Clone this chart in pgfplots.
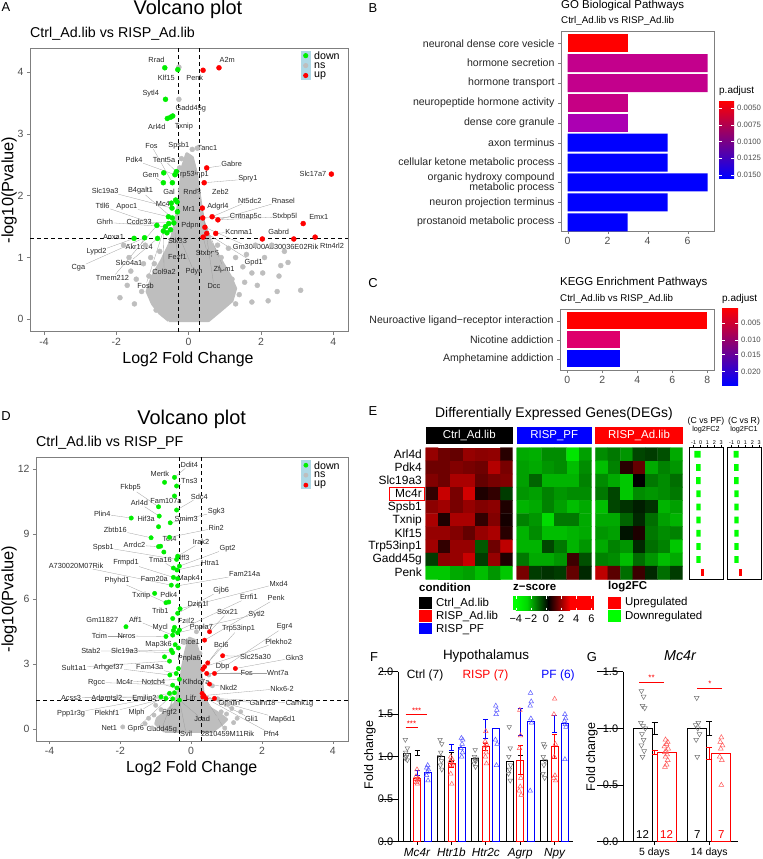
\documentclass[border=0pt]{standalone}
\usepackage{fontspec}
\setmainfont{Liberation Sans}
\usepackage{pgfplots}
\pgfplotsset{compat=1.18}
\definecolor{dgreen}{RGB}{0,238,0}
\definecolor{bgreen}{RGB}{0,255,0}
\definecolor{ngrey}{RGB}{190,190,190}
\definecolor{bord}{RGB}{127,127,127}
\definecolor{tickgrey}{RGB}{77,77,77}
\definecolor{hsec}{RGB}{195,0,140}
\definecolor{neuro}{RGB}{198,0,132}
\definecolor{dcg}{RGB}{172,0,178}
\definecolor{nico}{RGB}{222,0,108}
\definecolor{midrb}{RGB}{190,0,150}
\definecolor{lblue}{RGB}{173,216,230}
\definecolor{ptred}{RGB}{255,90,90}
\definecolor{ptblue}{RGB}{90,90,255}
\newcommand{\fs}[1]{\fontsize{#1}{#1}\selectfont}
\tikzset{
  glab/.style={font=\fs{7.4}, inner sep=0.5bp, text=black!85},
  gseg/.style={gray!75, line width=0.3pt},
  ytl/.style={anchor=east, font=\fs{11}, inner sep=0pt, xshift=-5bp},
  ytk/.style={black, line width=0.8pt},
}
\pgfplotsset{
  colormap={zs}{rgb255(0pt)=(0,255,0) rgb255(40pt)=(0,0,0) rgb255(80pt)=(255,0,0) rgb255(100pt)=(255,0,0)},
  every axis/.append style={/pgf/number format/assume math mode=true},
  volc/.style={scale only axis, anchor=north west, axis line style={bord, line width=0.6pt},
    tick style={bord, line width=0.5pt}, tick align=outside, tick pos=left, major tick length=3bp,
    ticklabel style={font=\fs{10.5}, text=tickgrey}, xtick={-4,-2,0,2,4}},
  gp/.style={scale only axis, axis lines*=left, axis line style={black, line width=0.9pt},
    tick style={black, line width=0.8pt}, tick align=outside, major tick length=3bp, clip=false,
    ytick=\empty},
  hm/.style={scale only axis, anchor=north west, ymin=-0.5, ymax=9.5, y dir=reverse, hide axis,
    colormap name=zs, point meta min=-4, point meta max=6},
  side/.style={scale only axis, anchor=north west, xmin=-1.67, xmax=3.26, ymin=-0.5, ymax=9.5, y dir=reverse,
    ytick=\empty, xtick={-1,0,1,2,3}, xticklabel pos=right, xtick pos=right, tick align=outside,
    major tick length=2.5bp, xticklabel style={font=\fs{5.5}, inner sep=0.5bp},
    axis line style={black, line width=0.6pt}, tick style={black, line width=0.4pt}},
}
\newcommand{\glab}[5]{\node[glab] (gl) at (axis cs:#1,#2) {#5}; \draw[gseg] (gl) -- (axis cs:#3,#4);}
\newcommand{\gnode}[3]{\node[glab] at (axis cs:#1,#2) {#3};}
\newcommand{\ytk}[3]{\draw[ytk] (axis cs:#1,#2) -- ++(-3bp,0); \node[ytl] at (axis cs:#1,#2) {#3};}
\begin{document}
\begin{tikzpicture}
\path[use as bounding box] (0,0) rectangle (763bp,-859bp);

% ---------------- panel letters & titles ----------------
\node[font=\fs{13}] at (6bp,-7bp) {A};
\node[font=\fs{13}] at (373bp,-8bp) {B};
\node[font=\fs{13}] at (373bp,-283bp) {C};
\node[font=\fs{13}] at (6bp,-416bp) {D};
\node[font=\fs{13}] at (373bp,-411bp) {E};
\node[font=\fs{13}] at (374bp,-657bp) {F};
\node[font=\fs{13}] at (592bp,-657bp) {G};

\node[font=\fs{20}, anchor=base] at (188bp,-14.5bp) {Volcano plot};
\node[font=\fs{14.3}, anchor=base west, inner sep=0pt] at (30bp,-37.3bp) {Ctrl\_Ad.lib vs RISP\_Ad.lib};
\node[font=\fs{16}, anchor=base] at (188bp,-363bp) {Log2 Fold Change};
\node[font=\fs{16.5}, rotate=90] at (9bp,-190bp) {-log10(Pvalue)};

\node[font=\fs{20}, anchor=base] at (191.7bp,-424bp) {Volcano plot};
\node[font=\fs{14.3}, anchor=base west, inner sep=0pt] at (36bp,-446bp) {Ctrl\_Ad.lib vs RISP\_PF};
\node[font=\fs{16}, anchor=base] at (191.7bp,-772bp) {Log2 Fold Change};
\node[font=\fs{16.5}, rotate=90] at (9bp,-599bp) {-log10(Pvalue)};

% ---------------- A volcano ----------------
\begin{axis}[volc, at={(30bp,-48bp)}, width=318bp, height=283.7bp,
  xmin=-4.39, xmax=4.41, ymin=-0.2, ymax=4.39, ytick={0,1,2,3,4}]
\addplot[fill=ngrey, draw=ngrey, line width=3bp, line join=round] coordinates {
(-0.55,-0.02) (0.55,-0.02) (0.9,0.15) (1.2,0.3) (1.3,0.5) (1.15,0.7) (0.9,0.95) (0.6,1.25) (0.4,1.6)
(0.3,2.0) (0.2,2.4) (0.1,2.62) (-0.05,2.68) (-0.18,2.45) (-0.25,2.0) (-0.35,1.6) (-0.5,1.25)
(-0.75,0.95) (-1.0,0.7) (-1.15,0.45) (-1.0,0.25) (-0.8,0.1) (-0.55,-0.02)};
\addplot[only marks, mark=*, mark size=2.5bp, color=ngrey] coordinates {
(-0.27,4.08) (-0.27,3.56) (0.24,2.77) (-0.2,2.6) (0.1,2.75) (-0.25,2.45) (0.2,2.3) (-0.22,2.1)
(0.25,2.0) (-0.15,1.95) (0.28,1.7) (0.05,2.2)
(0.9,1.0) (1.2,0.65) (1.5,0.85) (1.75,0.75) (2.1,1.0) (2.5,0.7) (2.55,0.87) (2.75,0.92) (3.1,0.47)
(2.45,0.45) (1.9,0.55) (1.4,0.4) (1.0,0.3) (1.3,0.25) (1.75,0.28) (0.95,0.85) (1.6,1.05) (1.85,1.2)
(2.3,1.2) (2.65,1.1) (1.1,1.15) (1.3,1.0) (0.8,1.2) (0.7,1.05) (2.2,0.3) (1.55,0.6) (2.05,0.75)
(-1.9,0.35) (-1.7,0.55) (-1.45,0.65) (-1.25,0.9) (-1.05,1.0) (-1.1,0.7) (-0.95,0.9) (-1.3,0.45)
(-1.6,0.78) (-1.0,0.3) (-1.5,0.25) (-1.8,1.2) (-0.8,1.1) (-1.2,1.2) (-0.9,0.15) (-1.65,1.0)};
\addplot[only marks, mark=*, mark size=2.5bp, color=dgreen] coordinates {
(-0.66,4.07) (-0.30,4.04) (-0.64,3.56) (-0.44,3.29) (-0.59,3.25) (-0.5,3.27) (-0.69,2.37) (-0.38,2.34)
(-0.34,2.39) (-0.70,2.21) (-0.45,2.21) (-0.36,1.93) (-0.48,1.88) (-0.46,1.80) (-0.31,1.74) (-0.56,1.66)
(-0.45,1.64) (-0.41,1.56) (-0.64,1.50) (-0.70,1.43) (-0.50,1.45) (-0.88,1.52) (-0.86,1.31) (-1.22,1.32)
(-1.51,1.31) (-0.32,1.9) (-0.55,1.55) (-0.6,1.4)};
\addplot[only marks, mark=*, mark size=2.5bp, color=red] coordinates {
(0.40,4.03) (0.84,4.07) (0.50,2.45) (0.43,2.21) (3.95,2.35) (0.38,1.80) (0.39,1.64) (0.65,1.66)
(0.81,1.61) (3.17,1.55) (0.75,1.39) (0.45,1.49) (0.50,1.39) (0.40,1.33) (2.04,1.30) (2.91,1.30) (3.50,1.33)};
\addplot[black, line width=0.9bp, dash pattern=on 4bp off 3bp] coordinates {(-0.29,-0.2) (-0.29,4.39)};
\addplot[black, line width=0.9bp, dash pattern=on 4bp off 3bp] coordinates {(0.31,-0.2) (0.31,4.39)};
\addplot[black, line width=0.9bp, dash pattern=on 4bp off 3bp] coordinates {(-4.39,1.301) (4.41,1.301)};
\gnode{-0.89}{4.19}{Rrad}\gnode{1.07}{4.19}{A2m}\gnode{-0.62}{3.90}{Klf15}\gnode{0.17}{3.90}{Penk}
\gnode{-1.05}{3.66}{Sytl4}\gnode{0.06}{3.41}{Gadd45g}\gnode{-0.88}{3.12}{Arl4d}\gnode{-0.13}{3.12}{Txnip}
\glab{-1.03}{2.81}{-0.45}{2.21}{Fos}\gnode{-0.27}{2.81}{Spsb1}\gnode{0.52}{2.77}{Tanc1}
\glab{-1.51}{2.58}{-0.38}{2.34}{Pdk4}\glab{-0.68}{2.58}{-0.34}{2.39}{Tent5a}\glab{1.19}{2.51}{0.50}{2.45}{Gabre}
\glab{-1.05}{2.34}{-0.70}{2.21}{Gem}\gnode{0.10}{2.34}{Trp53inp1}\gnode{3.44}{2.35}{Slc17a7}
\glab{1.64}{2.27}{0.43}{2.21}{Spry1}\glab{-2.31}{2.08}{-0.46}{1.80}{Slc19a3}\glab{-1.33}{2.08}{-0.45}{1.64}{B4galt1}
\gnode{-0.54}{2.07}{Gal}\gnode{0.10}{2.07}{Rnd3}\gnode{0.88}{2.07}{Zeb2}
\glab{-2.38}{1.83}{-0.50}{1.45}{Ttll6}\glab{-1.71}{1.82}{-0.56}{1.66}{Apoc1}\gnode{-0.68}{1.86}{Mc4r}
\glab{1.69}{1.92}{0.65}{1.66}{Nt5dc2}\glab{2.62}{1.92}{0.81}{1.61}{Rnasel}\gnode{0.01}{1.78}{Mr1}
\gnode{0.81}{1.82}{Adgrl4}\glab{1.58}{1.66}{0.39}{1.64}{Cntnap5c}\glab{2.66}{1.66}{0.81}{1.61}{Stxbp5l}
\gnode{3.60}{1.66}{Emx1}\glab{-2.32}{1.57}{-0.64}{1.50}{Ghrh}\glab{-1.37}{1.57}{-0.41}{1.56}{Ccdc33}
\gnode{0.04}{1.52}{Pdpn}\glab{1.39}{1.42}{0.75}{1.39}{Kcnma1}\gnode{2.49}{1.42}{Gabrd}
\gnode{-2.08}{1.34}{Anxa1}\gnode{-0.31}{1.27}{Stk33}\glab{1.67}{1.17}{0.45}{1.49}{Gm30400}
\gnode{2.85}{1.17}{A830036E02Rik}\gnode{3.97}{1.19}{Rtn4rl2}
\glab{-2.55}{1.09}{-1.51}{1.31}{Lypd2}\glab{-1.37}{1.17}{-1.22}{1.32}{Akr1c14}\glab{-1.65}{0.92}{-0.86}{1.31}{Slco4a1}
\glab{-0.31}{1.01}{-0.36}{1.40}{Fezf1}\glab{0.52}{1.07}{0.40}{1.33}{Stxbp6}\glab{1.80}{0.92}{0.50}{1.39}{Gpd1}
\glab{-3.05}{0.84}{-1.22}{1.32}{Cga}\glab{-0.68}{0.77}{-0.70}{1.43}{Col9a2}\glab{0.15}{0.77}{-0.30}{1.40}{Pdyn}
\glab{0.98}{0.81}{0.39}{1.64}{Zfpm1}\glab{-2.11}{0.67}{-0.88}{1.52}{Tmem212}\glab{-1.19}{0.54}{-0.70}{1.43}{Fosb}
\glab{0.70}{0.54}{0.38}{1.80}{Dcc}
\fill[lblue] (axis description cs:0.851,0.991) rectangle (axis description cs:0.883,0.887);
\fill[dgreen] (axis description cs:0.867,0.973) circle (2.6bp);
\fill[ngrey] (axis description cs:0.867,0.938) circle (2.6bp);
\fill[red] (axis description cs:0.867,0.903) circle (2.6bp);
\node[anchor=west, font=\fs{10.7}, inner sep=0pt] at (axis description cs:0.893,0.973) {down};
\node[anchor=west, font=\fs{10.7}, inner sep=0pt] at (axis description cs:0.893,0.938) {ns};
\node[anchor=west, font=\fs{10.7}, inner sep=0pt] at (axis description cs:0.893,0.903) {up};
\end{axis}

% ---------------- D volcano ----------------
\begin{axis}[volc, at={(36bp,-457bp)}, width=312bp, height=284bp,
  xmin=-4.38, xmax=4.43, ymin=-0.55, ymax=12.57, ytick={0,3,6,9,12}]
\addplot[fill=ngrey, draw=ngrey, line width=3bp, line join=round] coordinates {
(-0.75,-0.1) (0.6,-0.1) (0.85,0.2) (1.0,0.45) (0.8,0.7) (0.5,1.0) (0.35,1.5) (0.3,2.2) (0.25,3.0)
(0.2,3.6) (0.1,4.1) (-0.05,4.2) (-0.15,3.6) (-0.25,2.8) (-0.3,2.0) (-0.45,1.2) (-0.7,0.8) (-0.95,0.5)
(-1.0,0.25) (-0.75,-0.1)};
\addplot[only marks, mark=*, mark size=2.2bp, color=ngrey] coordinates {
(-1.93,0.1) (-1.2,0.5) (-1.05,0.65) (0.85,0.8) (1.0,0.7) (1.15,0.95) (1.3,0.5) (1.2,0.3) (-1.3,0.25)
(0.6,2.0) (0.5,2.5) (-0.2,4.0) (0.15,4.5) (-0.1,5.0) (0.25,3.5) (1.05,1.15) (-1.0,1.1) (-0.85,0.9)
(0.75,1.4) (1.4,0.8) (0.7,0.5) (-1.1,0.05) (0.95,0.05)};
\addplot[only marks, mark=*, mark size=2.2bp, color=dgreen] coordinates {
(-0.47,11.63) (-0.75,11.40) (-0.41,11.23) (-0.47,10.77) (-0.92,10.27) (-0.41,10.12) (-0.90,9.84)
(-1.69,9.75) (-0.59,9.53) (-0.92,9.35) (-1.13,8.84) (-0.61,8.86) (-0.92,8.43) (-0.86,8.45) (-0.77,8.18)
(-0.38,7.99) (-0.41,7.84) (-0.33,7.53) (-0.5,7.44) (-0.40,7.35) (-0.5,7.01) (-0.38,6.95) (-0.56,6.65)
(-0.38,6.62) (-1.03,6.27) (-0.71,5.84) (-0.63,5.87) (-0.31,5.56) (-0.38,5.35) (-0.52,5.11) (-1.84,4.73)
(-0.47,4.7) (-0.33,4.58) (-0.5,4.55) (-0.71,4.28) (-0.52,4.34) (-0.38,4.45) (-0.56,3.65) (-0.52,3.53)
(-0.75,3.34) (-0.61,3.14) (-0.42,2.57) (-0.6,2.50) (-0.33,2.30) (-0.52,2.03) (-0.85,1.49) (-0.61,1.65)
(-0.47,1.68) (-0.33,1.34) (-0.71,1.42) (-0.52,1.4) (-0.4,1.9) (-0.36,2.8) (-0.45,3.9) (-0.36,3.75)};
\addplot[only marks, mark=*, mark size=2.2bp, color=red] coordinates {
(0.52,4.50) (0.38,4.11) (0.89,3.39) (1.25,2.80) (0.47,3.06) (0.38,2.88) (0.33,2.76) (0.44,2.57)
(0.66,2.57) (0.52,2.08) (0.31,1.65) (0.33,1.49) (0.42,1.42) (0.66,1.42) (0.36,1.55)};
\addplot[black, line width=0.9bp, dash pattern=on 4bp off 3bp] coordinates {(-0.32,-0.55) (-0.32,12.57)};
\addplot[black, line width=0.9bp, dash pattern=on 4bp off 3bp] coordinates {(0.30,-0.55) (0.30,12.57)};
\addplot[black, line width=0.9bp, dash pattern=on 4bp off 3bp] coordinates {(-4.38,1.301) (4.43,1.301)};
\glab{-0.05}{12.2}{-0.47}{11.63}{Ddit4}\gnode{-0.88}{11.78}{Mertk}\glab{-0.05}{11.46}{-0.41}{11.23}{Tns3}
\glab{-1.71}{11.15}{-0.92}{10.27}{Fkbp5}\gnode{-0.71}{10.54}{Fam107a}\glab{0.23}{10.73}{-0.41}{10.12}{Sdc4}
\glab{-1.46}{10.43}{-0.90}{9.84}{Arl4d}\glab{0.71}{10.03}{-0.59}{9.53}{Sgk3}\glab{-2.51}{9.94}{-1.69}{9.75}{Plin4}
\gnode{-1.27}{9.70}{Hif3a}\gnode{-0.14}{9.70}{Smim3}\glab{0.71}{9.30}{-0.61}{8.86}{Rin2}
\glab{-2.14}{9.20}{-1.13}{8.84}{Zbtb16}\gnode{-0.61}{8.78}{Tet4}\glab{0.28}{8.63}{-0.38}{7.99}{Irak2}
\glab{-2.48}{8.40}{-0.41}{7.84}{Spsb1}\glab{-1.60}{8.50}{-0.92}{8.43}{Arrdc2}\glab{1.03}{8.35}{-0.33}{7.53}{Gpt2}
\glab{-0.87}{7.81}{-0.5}{7.44}{Tma16}\gnode{-0.19}{7.89}{Iff3}\glab{0.54}{7.69}{-0.40}{7.35}{Htra1}
\glab{-3.25}{7.55}{-0.56}{6.65}{A730020M07Rik}\glab{-1.84}{7.70}{-0.5}{7.01}{Frmpd1}\glab{1.51}{7.15}{-0.38}{6.62}{Fam214a}
\glab{-2.09}{6.85}{-0.71}{5.84}{Phyhd1}\gnode{-1.04}{6.95}{Fam20a}\gnode{-0.07}{6.95}{Mapk4}
\glab{2.47}{6.73}{-0.31}{5.56}{Mxd4}\glab{0.85}{6.42}{-0.38}{5.35}{Gjb6}\gnode{-1.41}{6.15}{Txnip}
\gnode{-0.63}{6.19}{Pdk4}\glab{1.63}{6.09}{-0.33}{4.58}{Errfi1}\glab{2.40}{6.04}{0.38}{4.11}{Penk}
\gnode{0.19}{5.73}{Dzip1l}\gnode{-0.87}{5.47}{Trib1}\glab{1.03}{5.39}{0.52}{4.50}{Sox21}
\glab{1.85}{5.31}{-0.38}{4.45}{Sytl2}\gnode{-2.51}{5.04}{Gm11827}\glab{-1.57}{5.04}{-0.52}{4.34}{Aff1}
\gnode{-0.14}{5.00}{Fzd2}\gnode{-0.87}{4.70}{Mycl}\gnode{0.29}{4.70}{Pnpla7}
\glab{1.34}{4.65}{0.47}{3.06}{Trp53inp1}\glab{2.64}{4.73}{0.66}{2.57}{Egr4}
\glab{-2.59}{4.30}{-1.84}{4.30}{Tcim}\glab{-1.82}{4.30}{-0.71}{4.28}{Nrros}\gnode{-0.92}{3.91}{Map3k6}
\gnode{-0.02}{4.03}{Plce1}\glab{2.47}{4.03}{0.38}{2.88}{Plekho2}\glab{-2.83}{3.60}{-0.56}{3.65}{Stab2}
\glab{-1.88}{3.60}{-0.52}{3.53}{Slc19a3}\glab{0.85}{3.88}{0.33}{2.76}{Bcl6}\gnode{-0.05}{3.27}{Pnpla6}
\glab{1.82}{3.34}{0.89}{3.39}{Slc25a30}\glab{2.92}{3.30}{1.25}{2.80}{Gkn3}
\glab{-3.30}{2.85}{-0.61}{3.14}{Sult1a1}\glab{-2.33}{2.85}{-0.6}{2.50}{Arhgef37}\glab{-1.17}{2.85}{-0.42}{2.57}{Fam43a}
\gnode{0.89}{2.91}{Dbp}\glab{1.57}{2.60}{0.66}{2.57}{Fos}\glab{2.45}{2.57}{0.44}{2.57}{Wnt7a}
\glab{-2.67}{2.16}{-0.52}{2.03}{Rgcc}\glab{-1.88}{2.16}{-0.33}{2.30}{Mc4r}\glab{-1.06}{2.16}{-0.4}{1.9}{Notch4}
\gnode{0.14}{2.16}{Klhdc7a}\glab{1.06}{1.91}{0.52}{2.08}{Nkd2}\glab{2.57}{1.88}{0.36}{1.55}{Nkx6-2}
\glab{-3.39}{1.46}{-0.85}{1.49}{Acss3}\glab{-2.38}{1.46}{-0.71}{1.42}{Adamtsl2}\glab{-1.32}{1.46}{-0.61}{1.65}{Emilin2}
\gnode{0.0}{1.46}{Lifr}\glab{1.08}{1.19}{0.33}{1.49}{Opalin}\glab{2.02}{1.19}{0.42}{1.42}{Galnt18}
\glab{3.06}{1.19}{0.66}{1.42}{Camk1g}\glab{-3.39}{0.73}{-0.85}{1.49}{Ppp1r3g}\glab{-2.38}{0.75}{-0.71}{1.42}{Plekhf1}
\glab{-1.54}{0.75}{-0.61}{1.65}{Mlph}\glab{-0.61}{0.75}{-0.52}{1.4}{Fgf2}\glab{0.31}{0.46}{-0.33}{1.34}{Jcad}
\glab{1.71}{0.46}{0.31}{1.65}{Gli1}\glab{2.57}{0.46}{0.33}{1.49}{Map6d1}\gnode{-2.31}{0.03}{Net1}
\glab{-1.56}{0.0}{-0.47}{1.68}{Gpr6}\glab{-0.83}{0.0}{-0.52}{1.4}{Gadd45g}\glab{-0.14}{-0.23}{-0.33}{1.34}{Svil}
\glab{1.03}{-0.23}{0.36}{1.55}{2810459M11Rik}\glab{2.27}{-0.23}{0.42}{1.42}{Pfn4}
\fill[lblue] (axis description cs:0.849,0.989) rectangle (axis description cs:0.881,0.887);
\fill[dgreen] (axis description cs:0.865,0.971) circle (2.4bp);
\fill[ngrey] (axis description cs:0.865,0.936) circle (2.4bp);
\fill[red] (axis description cs:0.865,0.901) circle (2.4bp);
\node[anchor=west, font=\fs{10.7}, inner sep=0pt] at (axis description cs:0.891,0.971) {down};
\node[anchor=west, font=\fs{10.7}, inner sep=0pt] at (axis description cs:0.891,0.936) {ns};
\node[anchor=west, font=\fs{10.7}, inner sep=0pt] at (axis description cs:0.891,0.901) {up};
\end{axis}

% ---------------- B GO ----------------
\node[font=\fs{11.5}, anchor=west, inner sep=0pt] at (561bp,-6bp) {GO Biological Pathways};
\node[font=\fs{9.8}, anchor=west, inner sep=0pt] at (561bp,-21bp) {Ctrl\_Ad.lib vs RISP\_Ad.lib};
\begin{axis}[scale only axis, anchor=north west, at={(561bp,-31bp)}, width=153bp, height=200bp,
  xmin=-0.33, xmax=7.32, ymin=-0.62, ymax=9.44, y dir=reverse,
  xtick={0,2,4,6}, ytick={0,...,9},
  yticklabels={neuronal dense core vesicle, hormone secretion, hormone transport, neuropeptide hormone activity,
    dense core granule, axon terminus, cellular ketone metabolic process, {organic hydroxy compound\\metabolic process},
    neuron projection terminus, prostanoid metabolic process},
  yticklabel style={font=\fontsize{10.6}{10.4}\selectfont, align=right, text=black!85},
  xticklabel style={font=\fs{10.5}, text=tickgrey},
  axis line style={bord, line width=0.6pt}, tick style={bord}, tick align=outside, tick pos=left, major tick length=3bp]
\addplot[xbar, bar shift=0pt, bar width=18bp, fill=red, draw=none] coordinates {(3,0)};
\addplot[xbar, bar shift=0pt, bar width=18bp, fill=hsec, draw=none] coordinates {(7,1) (7,2)};
\addplot[xbar, bar shift=0pt, bar width=18bp, fill=neuro, draw=none] coordinates {(3,3)};
\addplot[xbar, bar shift=0pt, bar width=18bp, fill=dcg, draw=none] coordinates {(3,4)};
\addplot[xbar, bar shift=0pt, bar width=18bp, fill=blue, draw=none] coordinates {(5,5) (5,6) (7,7) (5,8) (3,9)};
\end{axis}
\node[font=\fs{10}, anchor=west, inner sep=0pt] at (719bp,-91bp) {p.adjust};
\shade[top color=red, middle color=midrb, bottom color=blue] (719bp,-101bp) rectangle (734bp,-178bp);
\foreach \yy/\tt in {108/0.0050,125/0.0075,141.5/0.0100,158/0.0125,175/0.0150}{
  \draw[white, line width=0.5pt] (719bp,-\yy bp) -- (722bp,-\yy bp);
  \draw[white, line width=0.5pt] (731bp,-\yy bp) -- (734bp,-\yy bp);
  \node[font=\fs{7.8}, anchor=west, inner sep=0pt, text=tickgrey] at (737bp,-\yy bp) {\tt};}

% ---------------- C KEGG ----------------
\node[font=\fs{11.5}, anchor=west, inner sep=0pt] at (560bp,-283bp) {KEGG Enrichment Pathways};
\node[font=\fs{9.8}, anchor=west, inner sep=0pt] at (560bp,-299bp) {Ctrl\_Ad.lib vs RISP\_Ad.lib};
\begin{axis}[scale only axis, anchor=north west, at={(560bp,-309bp)}, width=154bp, height=61bp,
  xmin=-0.42, xmax=8.38, ymin=-0.63, ymax=2.58, y dir=reverse,
  xtick={0,2,4,6,8}, ytick={0,1,2},
  yticklabels={Neuroactive ligand−receptor interaction, Nicotine addiction, Amphetamine addiction},
  yticklabel style={font=\fs{10.6}, text=black!85},
  xticklabel style={font=\fs{10.5}, text=tickgrey},
  axis line style={bord, line width=0.6pt}, tick style={bord}, tick align=outside, tick pos=left, major tick length=3bp]
\addplot[xbar, bar shift=0pt, bar width=17bp, fill=red, draw=none] coordinates {(8,0)};
\addplot[xbar, bar shift=0pt, bar width=17bp, fill=nico, draw=none] coordinates {(3,1)};
\addplot[xbar, bar shift=0pt, bar width=17bp, fill=blue, draw=none] coordinates {(3,2)};
\end{axis}
\node[font=\fs{10}, anchor=west, inner sep=0pt] at (722bp,-299bp) {p.adjust};
\shade[top color=red, middle color=midrb, bottom color=blue] (722bp,-308bp) rectangle (738bp,-385bp);
\foreach \yy/\tt in {323/0.005,340/0.010,354.5/0.015,371.5/0.020}{
  \draw[white, line width=0.5pt] (722bp,-\yy bp) -- (725bp,-\yy bp);
  \draw[white, line width=0.5pt] (735bp,-\yy bp) -- (738bp,-\yy bp);
  \node[font=\fs{7.8}, anchor=west, inner sep=0pt, text=tickgrey] at (741bp,-\yy bp) {\tt};}

% ---------------- E heatmap ----------------
\node[font=\fs{14}] at (554bp,-414bp) {Differentially Expressed Genes(DEGs)};
\fill[black] (425.7bp,-427bp) rectangle (512.7bp,-444bp);
\fill[blue] (516.7bp,-427bp) rectangle (591.7bp,-444bp);
\fill[red] (595.3bp,-427bp) rectangle (682.7bp,-444bp);
\node[white, font=\fs{11.5}] at (469.2bp,-435.5bp) {Ctrl\_Ad.lib};
\node[white, font=\fs{11.5}] at (554.2bp,-435.5bp) {RISP\_PF};
\node[white, font=\fs{11.5}] at (639bp,-435.5bp) {RISP\_Ad.lib};
\begin{axis}[hm, at={(425.7bp,-447.7bp)}, width=87bp, height=131.6bp, xmin=-0.5, xmax=6.5]
\addplot[matrix plot*, mesh/cols=7, point meta=explicit] table[meta=z] {
x y z
0 0 2.35
1 0 1.73
2 0 1.57
3 0 2.35
4 0 2.2
5 0 2.27
6 0 0.63
0 1 1.73
1 1 1.73
2 1 2.04
3 1 1.88
4 1 1.73
5 1 2.82
6 1 1.88
0 2 2.04
1 2 1.73
2 2 2.67
3 2 2.67
4 2 1.57
5 2 1.88
6 2 2.04
0 3 0.78
1 3 3.14
2 3 1.88
3 3 3.29
4 3 0.47
5 3 0.78
6 3 -0.94
0 4 2.2
1 4 2.51
2 4 1.88
3 4 2.35
4 4 2.04
5 4 2.2
6 4 0.47
0 5 2.67
1 5 0.47
2 5 2.67
3 5 2.67
4 5 0.78
5 5 2.04
6 5 0.31
0 6 2.35
1 6 2.35
2 6 2.04
3 6 1.57
4 6 2.35
5 6 2.67
6 6 0.63
0 7 2.51
1 7 0.78
2 7 2.35
3 7 2.35
4 7 -1.41
5 7 1.73
6 7 2.98
0 8 -0.94
1 8 2.2
2 8 2.35
3 8 3.14
4 8 -0.94
5 8 2.35
6 8 0.47
0 9 -3.14
1 9 -3.14
2 9 -2.67
3 9 -2.51
4 9 -2.98
5 9 -2.35
6 9 -3.14
};
\end{axis}
\begin{axis}[hm, at={(516.7bp,-447.7bp)}, width=75bp, height=131.6bp, xmin=-0.5, xmax=5.5]
\addplot[matrix plot*, mesh/cols=6, point meta=explicit] table[meta=z] {
x y z
0 0 -2.67
1 0 -2.75
2 0 -2.2
3 0 -2.2
4 0 -3.61
5 0 -2.51
0 1 -2.51
1 1 -2.67
2 1 -2.35
3 1 -2.2
4 1 -2.98
5 1 -2.2
0 2 -2.51
1 2 -1.57
2 2 -2.82
3 2 -2.82
4 2 -2.82
5 2 -2.04
0 3 -2.35
1 3 -2.51
2 3 -2.04
3 3 -2.35
4 3 -2.2
5 3 -2.2
0 4 -2.82
1 4 -2.67
2 4 -2.04
3 4 -2.51
4 4 -2.98
5 4 -2.67
0 5 -2.04
1 5 -2.35
2 5 -3.45
3 5 -1.88
4 5 -1.88
5 5 -2.67
0 6 -2.82
1 6 -2.2
2 6 -2.98
3 6 -2.98
4 6 -2.82
5 6 -2.67
0 7 -2.82
1 7 -2.82
2 7 -1.1
3 7 -1.88
4 7 -2.82
5 7 -2.35
0 8 -1.88
1 8 -2.67
2 8 -2.67
3 8 -2.35
4 8 0.94
5 8 -1.25
0 9 1.88
1 9 -0.94
2 9 -0.78
3 9 -0.94
4 9 1.57
5 9 -0.63
};
\end{axis}
\begin{axis}[hm, at={(595.3bp,-447.7bp)}, width=87.4bp, height=131.6bp, xmin=-0.5, xmax=6.5]
\addplot[matrix plot*, mesh/cols=7, point meta=explicit] table[meta=z] {
x y z
0 0 -2.2
1 0 -1.88
2 0 -2.35
3 0 -1.1
4 0 -0.94
5 0 -1.25
6 0 -2.67
0 1 -2.98
1 1 -2.04
2 1 0.63
3 1 1.57
4 1 -2.67
5 1 -2.04
6 1 -2.35
0 2 -2.2
1 2 -2.67
2 2 -3.14
3 2 0.0
4 2 -1.88
5 2 -2.2
6 2 -1.73
0 3 -1.88
1 3 -1.1
2 3 -3.14
3 3 -2.2
4 3 -2.35
5 3 -2.2
6 3 -1.88
0 4 -2.98
1 4 -1.1
2 4 -0.78
3 4 -0.47
4 4 -0.78
5 4 -2.82
6 4 -2.51
0 5 -2.67
1 5 -2.67
2 5 -1.57
3 5 -0.63
4 5 -1.73
5 5 -2.51
6 5 -2.82
0 6 -2.35
1 6 -2.51
2 6 -0.31
3 6 0.47
4 6 -1.88
5 6 -2.2
6 6 -2.04
0 7 -2.67
1 7 -2.04
2 7 -2.35
3 7 -0.63
4 7 -1.73
5 7 -2.04
6 7 -3.14
0 8 -2.04
1 8 -2.2
2 8 -2.98
3 8 -1.73
4 8 -2.35
5 8 -2.98
6 8 -2.67
0 9 2.98
1 9 1.41
2 9 -1.73
3 9 0.94
4 9 -0.63
5 9 -1.73
6 9 -0.94
};
\end{axis}
\foreach \i/\g in {0/Arl4d,1/Pdk4,2/Slc19a3,3/Mc4r,4/Spsb1,5/Txnip,6/Klf15,7/Trp53inp1,8/Gadd45g,9/Penk}{
  \node[font=\fs{12}, anchor=east, inner sep=0pt] at (422bp,{-(447.7+13.16*(\i+0.5))*1bp}) {\g};}
\draw[red, line width=0.8pt] (389bp,-487bp) rectangle (424bp,-500.5bp);
% side bar axes
\node[font=\fs{8.7}] at (706bp,-421bp) {(C vs PF)};
\node[font=\fs{7.3}] at (706bp,-429.5bp) {log2FC2};
\node[font=\fs{8.7}] at (744bp,-421bp) {(C vs R)};
\node[font=\fs{7.3}] at (744bp,-429.5bp) {log2FC1};
\begin{axis}[side, at={(689bp,-447.7bp)}, width=34bp, height=131.6bp]
\addplot[xbar, bar shift=0pt, bar width=6.8bp, fill=bgreen, draw=none] coordinates {
(-0.9,0) (-0.65,1) (-0.65,2) (-0.6,3) (-0.6,4) (-0.6,5) (-0.6,6) (-0.6,7) (-0.6,8)};
\addplot[xbar, bar shift=0pt, bar width=6.8bp, fill=red, draw=none] coordinates {(0.45,9)};
\end{axis}
\begin{axis}[side, at={(727bp,-447.7bp)}, width=34bp, height=131.6bp]
\addplot[xbar, bar shift=0pt, bar width=6.8bp, fill=bgreen, draw=none] coordinates {
(-0.72,0) (-0.65,1) (-0.65,2) (-0.6,3) (-0.6,4) (-0.6,5) (-0.6,6) (-0.6,7) (-0.6,8)};
\addplot[xbar, bar shift=0pt, bar width=6.8bp, fill=red, draw=none] coordinates {(0.45,9)};
\end{axis}
% E legends
\node[font=\bfseries\fs{11.5}, anchor=west, inner sep=0pt] at (419bp,-587bp) {condition};
\node[font=\bfseries\fs{11.5}, anchor=west, inner sep=0pt] at (513bp,-587bp) {z−score};
\node[font=\bfseries\fs{11.5}, anchor=west, inner sep=0pt] at (608bp,-587bp) {log2FC};
\fill[black] (419bp,-597bp) rectangle (432bp,-608.5bp);
\fill[red] (419bp,-609.5bp) rectangle (432bp,-621.5bp);
\fill[blue] (419bp,-623bp) rectangle (432bp,-634bp);
\node[font=\fs{11.5}, anchor=west, inner sep=0pt] at (436bp,-603bp) {Ctrl\_Ad.lib};
\node[font=\fs{11.5}, anchor=west, inner sep=0pt] at (436bp,-616.5bp) {RISP\_Ad.lib};
\node[font=\fs{11.5}, anchor=west, inner sep=0pt] at (436bp,-629.5bp) {RISP\_PF};
\fill[bgreen] (513bp,-596bp) rectangle (516bp,-610bp);
\shade[left color=bgreen, right color={rgb,255:red,0;green,215;blue,0}] (515.9bp,-596bp) rectangle (527.1bp,-610bp);
\shade[left color={rgb,255:red,0;green,215;blue,0}, right color=black] (527bp,-596bp) rectangle (548.4bp,-610bp);
\shade[left color=black, right color=red] (548.3bp,-596bp) rectangle (570.2bp,-610bp);
\fill[red] (570.1bp,-596bp) rectangle (594bp,-610bp);
\foreach \v/\t in {-4/−4,-2/−2,0/0,2/2,4/4,6/6}{
  \draw[white, line width=0.4pt] ({(546+7.55*\v)*1bp},-596bp) -- ({(546+7.55*\v)*1bp},-598.5bp);
  \draw[white, line width=0.4pt] ({(546+7.55*\v)*1bp},-607.5bp) -- ({(546+7.55*\v)*1bp},-610bp);
  \node[font=\fs{11}, inner sep=0pt] at ({(546+7.55*\v)*1bp},-618.5bp) {\t};}
\fill[red] (608bp,-597bp) rectangle (621bp,-608.5bp);
\fill[bgreen] (608bp,-610bp) rectangle (621bp,-621.5bp);
\node[font=\fs{11.5}, anchor=west, inner sep=0pt] at (625bp,-603bp) {Upregulated};
\node[font=\fs{11.5}, anchor=west, inner sep=0pt] at (625bp,-616.5bp) {Downregulated};

% ---------------- F Hypothalamus ----------------
\node[font=\fs{13.5}] at (486bp,-656bp) {Hypothalamus};
\node[font=\fs{12.5}, rotate=90] at (370bp,-755bp) {Fold change};
\begin{axis}[gp, anchor=south west, at={(398.3bp,-841.7bp)}, width=174.7bp, height=170bp,
  xmin=0.456, xmax=5.535, ymin=0, ymax=2, xtick={1,2,3,4,5},
  xticklabels={Mc4r,Htr1b,Htr2c,Agrp,Npy}, xticklabel style={font=\fs{11.8}\itshape}]
\addplot[ybar, bar width=7bp, bar shift=-10.5bp, draw=black, fill=white, line width=0.8pt,
  error bars/.cd, y dir=both, y explicit, error bar style={black, line width=0.8pt},
  error mark options={rotate=90, black, mark size=2.5bp, line width=0.8pt}]
  coordinates {(1,1.04) +- (0,0.03) (2,1.00) +- (0,0.05) (3,0.98) +- (0,0.03) (4,0.94) +- (0,0.07) (5,0.96) +- (0,0.05)};
\addplot[ybar, bar width=7bp, bar shift=0bp, draw=red, fill=white, line width=0.8pt,
  error bars/.cd, y dir=both, y explicit, error bar style={red, line width=0.8pt},
  error mark options={rotate=90, red, mark size=2.5bp, line width=0.8pt}]
  coordinates {(1,0.74) +- (0,0.02) (2,0.92) +- (0,0.04) (3,1.12) +- (0,0.04) (4,0.96) +- (0,0.17) (5,1.12) +- (0,0.14)};
\addplot[ybar, bar width=7bp, bar shift=10.5bp, draw=blue, fill=white, line width=0.8pt,
  error bars/.cd, y dir=both, y explicit, error bar style={blue, line width=0.8pt},
  error mark options={rotate=90, blue, mark size=2.5bp, line width=0.8pt}]
  coordinates {(1,0.81) +- (0,0.03) (2,1.11) +- (0,0.04) (3,1.33) +- (0,0.11) (4,1.41) +- (0,0.16) (5,1.39) +- (0,0.10)};
\addplot[only marks, mark=triangle, mark size=2.6bp, mark options={rotate=180, draw=black!55, line width=0.5pt}] coordinates {
(0.66,1.20) (0.72,1.10) (0.67,1.05) (0.71,1.02) (0.69,1.00) (0.66,0.98) (0.72,0.96)
(1.67,1.20) (1.72,1.15) (1.69,1.05) (1.66,1.00) (1.71,0.95) (1.68,0.90) (1.72,0.85)
(2.69,1.08) (2.67,1.00) (2.72,0.98) (2.68,0.96) (2.71,0.95) (2.66,0.92) (2.70,0.88)
(3.68,1.35) (3.71,1.10) (3.67,1.00) (3.72,0.90) (3.69,0.85) (3.66,0.80) (3.71,0.72)
(4.68,1.15) (4.71,1.12) (4.67,1.00) (4.72,0.95) (4.69,0.90) (4.66,0.80) (4.71,0.75)};
\addplot[only marks, mark=triangle, mark size=2.6bp, mark options={draw=ptred, line width=0.5pt}] coordinates {
(1.0,0.85) (0.97,0.77) (1.03,0.75) (0.98,0.73) (1.02,0.72) (0.99,0.70) (1.01,0.68)
(1.98,1.00) (2.02,0.97) (1.97,0.95) (2.03,0.92) (2.0,0.90) (1.98,0.80) (2.01,0.68)
(3.0,1.30) (2.98,1.18) (3.02,1.15) (2.97,1.12) (3.01,1.05) (2.99,1.00) (3.02,0.92)
(3.99,1.55) (4.01,1.25) (3.98,1.10) (4.02,0.75) (4.0,0.65) (3.97,0.60) (4.03,0.55)
(5.0,1.68) (4.98,1.50) (5.02,1.15) (4.99,1.00) (5.01,0.78) (4.97,0.75) (5.03,0.72)};
\addplot[only marks, mark=triangle, mark size=2.6bp, mark options={draw=ptblue, line width=0.5pt}] coordinates {
(1.31,0.90) (1.28,0.87) (1.33,0.85) (1.30,0.82) (1.28,0.78) (1.32,0.72)
(2.29,1.22) (2.33,1.20) (2.31,1.15) (2.28,1.10) (2.32,1.05) (2.30,1.00)
(3.29,1.60) (3.32,1.55) (3.30,1.50) (3.28,1.20) (3.33,1.15) (3.31,0.90)
(4.30,1.75) (4.32,1.65) (4.29,1.60) (4.31,1.45) (4.33,1.40) (4.29,0.60)
(5.30,1.50) (5.32,1.45) (5.29,1.42) (5.31,1.38) (5.33,1.35) (5.30,0.97)};
\draw[red, line width=0.6pt] (axis cs:0.67,1.35) -- (axis cs:1.035,1.35);
\draw[red, line width=0.6pt] (axis cs:0.67,1.50) -- (axis cs:1.28,1.50);
\node[red, font=\fs{8}, inner sep=0pt] at (axis cs:0.84,1.385) {***};
\node[red, font=\fs{8}, inner sep=0pt] at (axis cs:0.99,1.535) {***};
\node[font=\fs{12}] at (axis cs:1.234,1.96) {Ctrl (7)};
\node[font=\fs{12}, red] at (axis cs:2.99,1.96) {RISP (7)};
\node[font=\fs{12}, blue] at (axis cs:5.1,1.96) {PF (6)};
\ytk{0.456}{0}{0.0}\ytk{0.456}{0.5}{0.5}\ytk{0.456}{1}{1.0}\ytk{0.456}{1.5}{1.5}\ytk{0.456}{2}{2.0}
\end{axis}

% ---------------- G Mc4r ----------------
\node[font=\fs{14.4}\itshape] at (680bp,-656bp) {Mc4r};
\node[font=\fs{12.5}, rotate=90] at (592bp,-757bp) {Fold change};
\begin{axis}[gp, anchor=south west, at={(623.3bp,-841.7bp)}, width=115bp, height=170bp,
  xmin=0.429, xmax=2.53, ymin=0, ymax=1.5, xtick={1,2},
  xticklabels={5 days,14 days}, xticklabel style={font=\fs{10.5}}]
\addplot[ybar, bar width=19bp, bar shift=-12bp, draw=black, fill=white, line width=0.8pt,
  error bars/.cd, y dir=both, y explicit, error bar style={black, line width=0.8pt},
  error mark options={rotate=90, black, mark size=3bp, line width=0.8pt}]
  coordinates {(1,1.0) +- (0,0.05) (2,1.0) +- (0,0.06)};
\addplot[ybar, bar width=19bp, bar shift=12bp, draw=red, fill=white, line width=0.8pt,
  error bars/.cd, y dir=both, y explicit, error bar style={red, line width=0.8pt},
  error mark options={rotate=90, red, mark size=3bp, line width=0.8pt}]
  coordinates {(1,0.79) +- (0,0.02) (2,0.78) +- (0,0.05)};
\addplot[only marks, mark=triangle, mark size=2.8bp, mark options={rotate=180, draw=black!55, line width=0.5pt}] coordinates {
(0.76,1.33) (0.80,1.28) (0.78,1.20) (0.82,1.18) (0.75,1.05) (0.79,1.02) (0.83,1.00) (0.77,0.95)
(0.80,0.90) (0.76,0.85) (0.81,0.80) (0.78,0.75)
(1.77,1.27) (1.80,1.05) (1.75,1.03) (1.79,1.00) (1.82,0.95) (1.76,0.90) (1.78,0.75)};
\addplot[only marks, mark=triangle, mark size=2.8bp, mark options={draw=ptred, line width=0.5pt}] coordinates {
(1.20,0.90) (1.24,0.88) (1.22,0.86) (1.18,0.84) (1.25,0.82) (1.21,0.80) (1.19,0.79) (1.23,0.77)
(1.20,0.75) (1.24,0.72) (1.22,0.68) (1.19,0.66)
(2.22,0.92) (2.20,0.88) (2.24,0.85) (2.21,0.82) (2.19,0.75) (2.23,0.72) (2.22,0.50)};
\draw[red, line width=0.6pt] (axis cs:0.72,1.41) -- (axis cs:1.17,1.41);
\draw[red, line width=0.6pt] (axis cs:1.78,1.35) -- (axis cs:2.24,1.35);
\node[red, font=\fs{8}, inner sep=0pt] at (axis cs:0.945,1.45) {**};
\node[red, font=\fs{8}, inner sep=0pt] at (axis cs:2.01,1.39) {*};
\node[font=\fs{11.5}] at (axis cs:0.781,0.065) {12};
\node[font=\fs{11.5}, red] at (axis cs:1.219,0.065) {12};
\node[font=\fs{11.5}] at (axis cs:1.781,0.065) {7};
\node[font=\fs{11.5}, red] at (axis cs:2.219,0.065) {7};
\ytk{0.429}{0}{0.0}\ytk{0.429}{0.5}{0.5}\ytk{0.429}{1}{1.0}\ytk{0.429}{1.5}{1.5}
\end{axis}
\end{tikzpicture}
\end{document}
